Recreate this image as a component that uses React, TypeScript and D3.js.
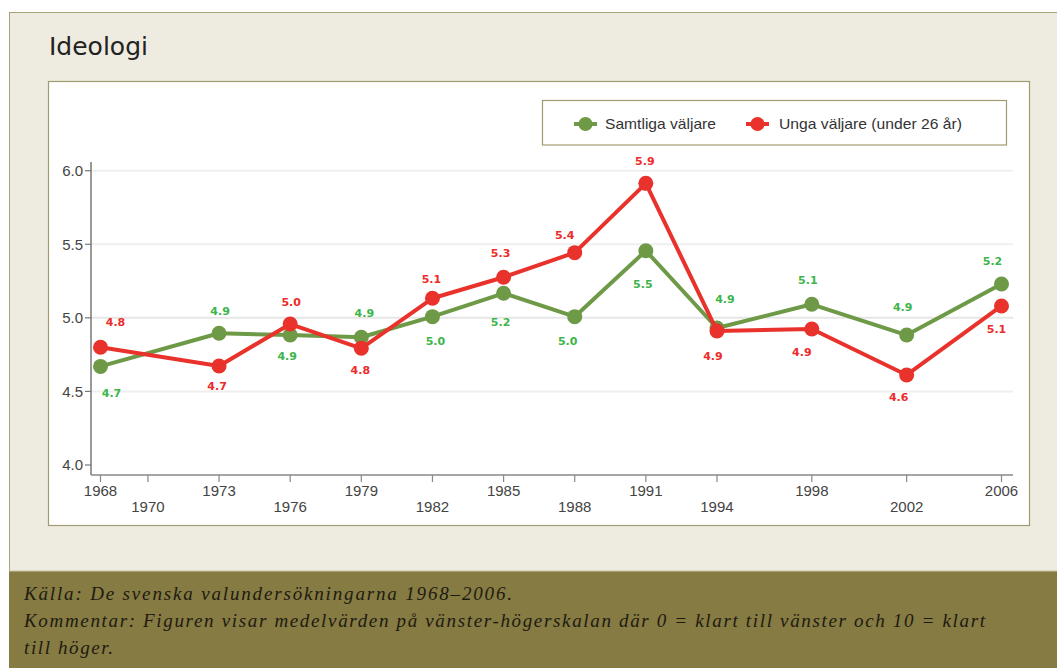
import React from "react";
import * as d3 from "d3";

// ---- Data ----
const years = [1968, 1973, 1976, 1979, 1982, 1985, 1988, 1991, 1994, 1998, 2002, 2006];
const tickYears = [1968, 1970, 1973, 1976, 1979, 1982, 1985, 1988, 1991, 1994, 1998, 2002, 2006];
const lowerRowYears = [1970, 1976, 1982, 1988, 1994, 2002];
const samtliga = [4.67, 4.895, 4.883, 4.868, 5.008, 5.167, 5.008, 5.456, 4.931, 5.092, 4.883, 5.23];
const unga = [4.8, 4.673, 4.958, 4.793, 5.133, 5.276, 5.443, 5.914, 4.911, 4.924, 4.612, 5.081];
const samtligaLabels = ["4.7", "4.9", "4.9", "4.9", "5.0", "5.2", "5.0", "5.5", "4.9", "5.1", "4.9", "5.2"];
const ungaLabels = ["4.8", "4.7", "5.0", "4.8", "5.1", "5.3", "5.4", "5.9", "4.9", "4.9", "4.6", "5.1"];
const yTicks = [4.0, 4.5, 5.0, 5.5, 6.0];
const seriesNames = ["Samtliga väljare", "Unga väljare (under 26 år)"];

// label placement offsets (layout, not data)
const samtligaLabelOffsets: [number, number][] = [
  [11, 27], [1, -22], [-3, 21], [3, -24], [3, 24], [-3, 29], [-7, 24], [-3, 33], [8, -29], [-4, -24], [-4, -28], [-9, -23],
];
const ungaLabelOffsets: [number, number][] = [
  [15, -25], [-2, 20], [1, -22], [-1, 22], [-1, -19], [-3, -24], [-10, -18], [-1, -22], [-4, 25], [-10, 23], [-8, 22], [-5, 23],
];

const GREEN_LINE = "#6E9A48";
const GREEN_TEXT = "#3DB54A";
const RED_LINE = "#E8322B";
const RED_TEXT = "#EE2A2A";

export default function App() {
  const W = 1057;
  const H = 668;
  const x = d3.scaleLinear().domain([1968, 2006]).range([100.5, 1001.5]);
  const y = d3.scaleLinear().domain([4, 6]).range([465, 170.7]);
  const line = d3
    .line<number>()
    .x((_, i) => x(years[i]))
    .y((d) => y(d));

  const axisX0 = 91;
  const axisY = 475;

  const footerLines = [
    { t: "Källa: De svenska valundersökningarna 1968–2006.", len: 488 },
    { t: "Kommentar: Figuren visar medelvärden på vänster-högerskalan där 0 = klart till vänster och 10 = klart", len: 961 },
    { t: "till höger.", len: 89 },
  ];

  return (
    <svg
      width={W}
      height={H}
      style={{ position: "absolute", left: 0, top: 0, background: "#fff" }}
    >
      {/* panel */}
      <rect x={9.5} y={12.5} width={1100} height={700} fill="#EEEBE0" stroke="#A8A27A" strokeWidth={1} />
      <text x={49} y={55} fontFamily="DejaVu Sans" fontSize={25} fill="#222">
        Ideologi
      </text>
      {/* chart box */}
      <rect x={48.5} y={81.5} width={981} height={444} fill="#FFFFFF" stroke="#A09C70" strokeWidth={1.2} />

      {/* gridlines */}
      {yTicks.filter((t) => t > 4).map((t) => (
        <line key={"g" + t} x1={axisX0} x2={1013} y1={y(t)} y2={y(t)} stroke={t === 5 ? "#E6E6E6" : "#EFEFEF"} strokeWidth={2} />
      ))}

      {/* y axis */}
      <line x1={axisX0} x2={axisX0} y1={162} y2={axisY} stroke="#777" strokeWidth={1.5} />
      {yTicks.map((t) => (
        <g key={"yt" + t}>
          <line x1={85} x2={axisX0} y1={y(t)} y2={y(t)} stroke="#777" strokeWidth={1.2} />
          <text x={83} y={y(t)} dy="0.35em" textAnchor="end" fontFamily="Liberation Sans, Arial" fontSize={15} fill="#444">
            {t.toFixed(1)}
          </text>
        </g>
      ))}

      {/* x axis */}
      <line x1={axisX0} x2={1013} y1={axisY} y2={axisY} stroke="#888" strokeWidth={1.5} />
      {tickYears.map((yr) => {
        const lower = lowerRowYears.includes(yr);
        return (
          <g key={"xt" + yr}>
            <line x1={x(yr)} x2={x(yr)} y1={axisY} y2={axisY + 7} stroke="#888" strokeWidth={1.2} />
            <text
              x={x(yr)}
              y={lower ? 507 : 491}
              dy="0.35em"
              textAnchor="middle"
              fontFamily="Liberation Sans, Arial"
              fontSize={15}
              fill="#444"
            >
              {yr}
            </text>
          </g>
        );
      })}

      {/* lines */}
      <path d={line(samtliga) || ""} fill="none" stroke={GREEN_LINE} strokeWidth={4} strokeLinejoin="round" />
      {samtliga.map((v, i) => (
        <circle key={"gs" + i} cx={x(years[i])} cy={y(v)} r={7.5} fill={GREEN_LINE} />
      ))}
      <path d={line(unga) || ""} fill="none" stroke={RED_LINE} strokeWidth={4} strokeLinejoin="round" />
      {unga.map((v, i) => (
        <circle key={"rs" + i} cx={x(years[i])} cy={y(v)} r={7.5} fill={RED_LINE} />
      ))}

      {/* value labels */}
      {samtliga.map((v, i) => (
        <text
          key={"gl" + i}
          x={x(years[i]) + samtligaLabelOffsets[i][0]}
          y={y(v) + samtligaLabelOffsets[i][1]}
          dy="0.35em"
          textAnchor="middle"
          fontFamily="DejaVu Sans"
          fontWeight="bold"
          fontSize={11}
          fill={GREEN_TEXT}
        >
          {samtligaLabels[i]}
        </text>
      ))}
      {unga.map((v, i) => (
        <text
          key={"rl" + i}
          x={x(years[i]) + ungaLabelOffsets[i][0]}
          y={y(v) + ungaLabelOffsets[i][1]}
          dy="0.35em"
          textAnchor="middle"
          fontFamily="DejaVu Sans"
          fontWeight="bold"
          fontSize={11}
          fill={RED_TEXT}
        >
          {ungaLabels[i]}
        </text>
      ))}

      {/* legend */}
      <rect x={542.5} y={100.5} width={464} height={44.5} fill="#FFFFFF" stroke="#A09C70" strokeWidth={1.2} />
      <line x1={574} x2={597} y1={124} y2={124} stroke={GREEN_LINE} strokeWidth={4} />
      <circle cx={585.5} cy={124} r={7} fill={GREEN_LINE} />
      <text x={605} y={124} dy="0.35em" fontFamily="Liberation Sans, Arial" fontSize={15} fill="#333" textLength={111} lengthAdjust="spacingAndGlyphs">
        {seriesNames[0]}
      </text>
      <line x1={746} x2={769} y1={124} y2={124} stroke={RED_LINE} strokeWidth={4} />
      <circle cx={757.5} cy={124} r={7} fill={RED_LINE} />
      <text x={779} y={124} dy="0.35em" fontFamily="Liberation Sans, Arial" fontSize={15} fill="#333" textLength={183} lengthAdjust="spacingAndGlyphs">
        {seriesNames[1]}
      </text>

      {/* footer */}
      <rect x={9} y={571} width={1100} height={120} fill="#857B43" />
      <line x1={9} x2={1057} y1={571} y2={571} stroke="#C9C3A0" strokeWidth={1} />
      {footerLines.map((l, i) => (
        <text
          key={"f" + i}
          x={24}
          y={600 + i * 27}
          fontFamily="Liberation Serif, Times New Roman"
          fontStyle="italic"
          fontSize={19}
          fill="#1E1A10"
          textLength={l.len}
          lengthAdjust="spacing"
        >
          {l.t}
        </text>
      ))}
    </svg>
  );
}
